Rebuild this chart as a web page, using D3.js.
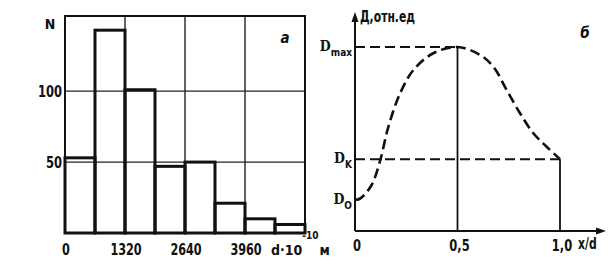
<!DOCTYPE html>
<html>
<head>
  <script src="https://cdnjs.cloudflare.com/ajax/libs/d3/7.8.5/d3.min.js"></script>
  <style>
    body { margin: 0; background: #fff; }
    text { font-family: "DejaVu Sans", sans-serif; font-stretch: condensed; font-weight: bold; fill: #111; }
    .serif { font-family: "DejaVu Serif", "Liberation Serif", serif; }
  </style>
</head>
<body>
  <div id="graph"></div>
  <script>
    // Panel a: size distribution histogram
    const binEdges = [0, 660, 1320, 1980, 2640, 3300, 3960, 4620, 5280];
    const counts = [53, 143, 101, 47, 50, 21, 10, 6];
    const xTicksA = [0, 1320, 2640, 3960];
    const yTicksA = [50, 100];

    // Panel b: relative D profile across x/d
    const profileX = [0.005, 0.03, 0.081, 0.122, 0.163, 0.22, 0.285, 0.382, 0.5, 0.61, 0.675, 0.74, 0.805, 0.87, 0.935, 1.0];
    const profileY = [0.168, 0.18, 0.25, 0.38, 0.567, 0.748, 0.875, 0.966, 1.0, 0.957, 0.893, 0.766, 0.64, 0.531, 0.458, 0.39];
    const dLevels = [{name: "max", v: 1.0}, {name: "K", v: 0.39}, {name: "O", v: 0.168}];
    const xTicksB = [{v: 0, t: "0"}, {v: 0.5, t: "0,5"}, {v: 1.0, t: "1,0"}];

    const svg = d3.select("#graph").append("svg")
      .attr("width", 609).attr("height", 265);

    // squeeze text horizontally like the narrow print face
    const narrow = (sel, ratio) => sel.each(function () {
      const w = this.getComputedTextLength();
      d3.select(this).attr("textLength", w * ratio).attr("lengthAdjust", "spacingAndGlyphs");
    });

    // ---------- panel a ----------
    const xA = d3.scaleLinear().domain([0, 5280]).range([65, 305]);
    const yA = d3.scaleLinear().domain([0, 153]).range([233, 16]);
    const gA = svg.append("g");

    // grid
    gA.selectAll(".vg").data(xTicksA.slice(1)).join("line")
      .attr("x1", d => xA(d)).attr("x2", d => xA(d))
      .attr("y1", yA(153)).attr("y2", yA(0))
      .attr("stroke", "#222").attr("stroke-width", 1.4);
    gA.selectAll(".hg").data(yTicksA).join("line")
      .attr("x1", xA(0)).attr("x2", xA(5280))
      .attr("y1", d => yA(d)).attr("y2", d => yA(d))
      .attr("stroke", "#222").attr("stroke-width", 1.4);

    // frame
    gA.append("rect")
      .attr("x", xA(0)).attr("y", yA(153))
      .attr("width", xA(5280) - xA(0)).attr("height", yA(0) - yA(153))
      .attr("fill", "none").attr("stroke", "#111").attr("stroke-width", 2);

    // bars
    gA.selectAll(".bar").data(counts).join("rect")
      .attr("x", (d, i) => xA(binEdges[i]))
      .attr("width", (d, i) => xA(binEdges[i + 1]) - xA(binEdges[i]))
      .attr("y", d => yA(d))
      .attr("height", d => yA(0) - yA(d))
      .attr("fill", "none").attr("stroke", "#111").attr("stroke-width", 3);

    // tick labels
    gA.selectAll(".xl").data(xTicksA).join("text")
      .attr("x", d => xA(d) + 1).attr("y", 255)
      .attr("text-anchor", "middle").style("font-size", "16px")
      .text(d => d).call(narrow, 0.78);
    gA.selectAll(".yl").data(yTicksA).join("text")
      .attr("x", 62).attr("y", d => yA(d) + 6)
      .attr("text-anchor", "end").style("font-size", "16px")
      .text(d => d).call(narrow, 0.8);
    gA.append("text").attr("x", 50).attr("y", 29)
      .attr("text-anchor", "middle").style("font-size", "14px").text("N");
    gA.append("text").attr("x", 285).attr("y", 43)
      .attr("text-anchor", "middle").style("font-size", "15px")
      .style("font-style", "italic").text("а");
    const unitA = gA.append("text").attr("x", 271).attr("y", 255).style("font-size", "14px");
    unitA.append("tspan").text("d·10");
    unitA.append("tspan").attr("dy", -16).style("font-size", "10px").text("-10");
    unitA.append("tspan").attr("dy", 16).attr("dx", 1).text("м");

    // ---------- panel b ----------
    const xB = d3.scaleLinear().domain([0, 1]).range([355, 560]);
    const yB = d3.scaleLinear().domain([0, 1]).range([231, 47]);
    const gB = svg.append("g");

    // axes with arrows
    gB.append("line").attr("x1", xB(0)).attr("x2", 602).attr("y1", yB(0)).attr("y2", yB(0))
      .attr("stroke", "#111").attr("stroke-width", 2);
    gB.append("line").attr("x1", xB(0)).attr("x2", xB(0)).attr("y1", yB(0)).attr("y2", 16)
      .attr("stroke", "#111").attr("stroke-width", 2);
    gB.append("path")
      .attr("d", `M606,${yB(0)} L596,${yB(0) - 3.5} L596,${yB(0) + 3.5} Z`).attr("fill", "#111");
    gB.append("path")
      .attr("d", `M${xB(0)},12 L${xB(0) - 3.5},22 L${xB(0) + 3.5},22 Z`).attr("fill", "#111");

    // reference lines
    const dk = dLevels[1].v;
    gB.append("line").attr("x1", xB(0)).attr("x2", xB(0.5)).attr("y1", yB(1)).attr("y2", yB(1))
      .attr("stroke", "#111").attr("stroke-width", 1.8).attr("stroke-dasharray", "10,5");
    gB.append("line").attr("x1", xB(0)).attr("x2", xB(1)).attr("y1", yB(dk)).attr("y2", yB(dk))
      .attr("stroke", "#111").attr("stroke-width", 1.8).attr("stroke-dasharray", "10,5");
    gB.append("line").attr("x1", xB(0.5)).attr("x2", xB(0.5)).attr("y1", yB(1)).attr("y2", yB(0))
      .attr("stroke", "#111").attr("stroke-width", 1.8);
    gB.append("line").attr("x1", xB(1)).attr("x2", xB(1)).attr("y1", yB(dk)).attr("y2", yB(0))
      .attr("stroke", "#111").attr("stroke-width", 1.8);

    // profile curve
    const pts = profileX.map((x, i) => [x, profileY[i]]);
    gB.append("path").datum(pts)
      .attr("d", d3.line().x(d => xB(d[0])).y(d => yB(d[1])).curve(d3.curveCatmullRom))
      .attr("fill", "none").attr("stroke", "#111").attr("stroke-width", 2.6)
      .attr("stroke-dasharray", "10,5");

    // labels
    gB.selectAll(".xl").data(xTicksB).join("text")
      .attr("x", d => xB(d.v) + 2).attr("y", 251)
      .attr("text-anchor", "middle").style("font-size", "16px")
      .text(d => d.t).call(narrow, 0.8);
    gB.append("text").attr("x", 578).attr("y", 249).style("font-size", "15px").text("x/d").call(narrow, 0.8);
    gB.append("text").attr("x", 360).attr("y", 22).style("font-size", "15px").text("Д,отн.ед").call(narrow, 0.8);
    gB.append("text").attr("x", 585).attr("y", 38).attr("text-anchor", "middle")
      .style("font-size", "15px").style("font-style", "italic").text("б");

    const dl = gB.selectAll(".dl").data(dLevels).join("text")
      .attr("x", 352).attr("y", d => yB(d.v) + 4)
      .attr("text-anchor", "end")
      .style("font-size", "14px");
    dl.append("tspan").attr("class", "serif").text("D");
    dl.append("tspan").attr("dy", 5).style("font-size", "10px").text(d => d.name);
  </script>
</body>
</html>
